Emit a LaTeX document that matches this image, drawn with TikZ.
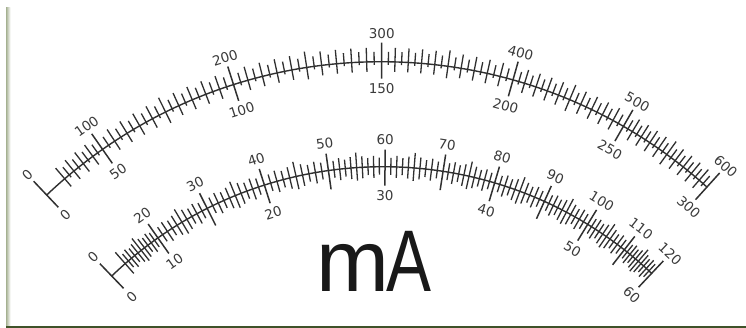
\documentclass[tikz,border=0pt]{standalone}
\usepackage{fontspec}
\setmainfont{Liberation Sans}
\newfontfamily\numfont{DejaVu Sans}
\usetikzlibrary{calc}
\definecolor{ink}{HTML}{303030}
\definecolor{lab}{HTML}{3A3A3A}
\definecolor{frameL}{HTML}{7E8F62}
\definecolor{frameB}{HTML}{3F5229}
\begin{document}
\begin{tikzpicture}[x=1pt,y=1pt,
  tick/.style={draw=ink,line width=1.3pt},
  majtick/.style={draw=ink,line width=1.5pt},
  scalearc/.style={draw=ink,line width=1.4pt},
  numlabel/.style={text=lab,font=\numfont\fontsize{13.5}{13.5}\selectfont,inner sep=0pt},
  unitlabel/.style={text=black!90,font=\fontsize{87.5}{87.5}\selectfont,inner sep=0pt,anchor=base west},
]
\useasboundingbox (0,0) rectangle (746,328);
\fill[white] (0,0) rectangle (746,328);
\shade[left color=frameL!70, right color=white] (6,2) rectangle (10.5,320);
\fill[frameB] (6,0) rectangle (746,2.2);

\coordinate (CU) at (381.1,-219.9);
\coordinate (CL) at (383.1,-230.2);
\def\RU{486.2}
\def\RL{391.5}

% ---------- upper scale ----------
\draw[scalearc] ($(CU)+(133.46:\RU)$) arc[start angle=133.46,end angle=47.92,radius=\RU pt];
\foreach \va/\aa/\vb/\ab in {60/130.6/100/124.95,100/124.95/200/107.67,200/107.67/300/89.93,300/89.93/400/74.26,400/74.26/500/60.11,500/60.11/600/47.92}{
  \pgfmathtruncatemacro\nn{(\vb-\va)/5-1}
  \foreach \k in {0,...,\nn}{
    \pgfmathtruncatemacro\v{\va+5*\k}
    \pgfmathtruncatemacro\mm{mod(\v,100)}
    \ifnum\mm=0\relax\else
      \pgfmathsetmacro\ang{\aa+(\ab-\aa)*(\v-\va)/(\vb-\va)}
      \pgfmathsetmacro\ti{mod(\v,50)==0 ? 12 : (mod(\v,10)==0 ? 10 : 3)}
      \pgfmathsetmacro\to{mod(\v,50)==0 ? 16 : (mod(\v,10)==0 ? 14 : 10)}
      \pgfmathsetmacro\rin{\RU-\ti}
      \pgfmathsetmacro\rout{\RU+\to}
      \draw[tick] ($(CU)+(\ang:\rin)$) -- ($(CU)+(\ang:\rout)$);
    \fi
  }
}
\foreach \ang/\t/\b/\nm in {133.46/0/0/a,124.95/100/50/b,107.67/200/100/c,89.93/300/150/d,74.26/400/200/e,60.11/500/250/f,47.92/600/300/g}{
  \pgfmathsetmacro\rin{\RU-17}
  \pgfmathsetmacro\rout{\RU+19}
  \pgfmathsetmacro\rt{\RU+28}
  \pgfmathsetmacro\rb{\RU-27}
  \draw[majtick] ($(CU)+(\ang:\rin)$) -- ($(CU)+(\ang:\rout)$);
  \node[numlabel,rotate=\ang-90] (ut\nm) at ($(CU)+(\ang:\rt)$) {\t};
  \node[numlabel,rotate=\ang-90] (ub\nm) at ($(CU)+(\ang:\rb)$) {\b};
}

% ---------- lower scale ----------
\draw[scalearc] ($(CL)+(133.88:\RL)$) arc[start angle=133.88,end angle=46.69,radius=\RL pt];
\foreach \va/\aa/\vb/\ab in {10/131.2/20/125.11,20/125.11/30/116.7,30/116.7/40/107.65,40/107.65/50/98.03,50/98.03/60/89.72,60/89.72/70/81.19,70/81.19/80/73.45,80/73.45/90/65.68,90/65.68/100/58.5,100/58.5/110/51.97,110/51.97/120/46.69}{
  \foreach \k in {0,...,9}{
    \pgfmathtruncatemacro\v{\va+\k}
    \pgfmathtruncatemacro\mm{(mod(\v,10)==0 && \v>10) ? 1 : 0}
    \ifnum\mm=1\relax\else
      \pgfmathsetmacro\ang{\aa+(\ab-\aa)*(\v-\va)/(\vb-\va)}
      \pgfmathsetmacro\ti{mod(\v,5)==0 ? 13 : (mod(\v,2)==0 ? 11 : 8)}
      \pgfmathsetmacro\to{mod(\v,5)==0 ? 15 : (mod(\v,2)==0 ? 11 : 9)}
      \pgfmathsetmacro\rin{\RL-\ti}
      \pgfmathsetmacro\rout{\RL+\to}
      \draw[tick] ($(CL)+(\ang:\rin)$) -- ($(CL)+(\ang:\rout)$);
    \fi
  }
}
\pgfmathsetmacro\rin{\RL-17}
\pgfmathsetmacro\rout{\RL+17}
\draw[majtick] ($(CL)+(133.88:\rin)$) -- ($(CL)+(133.88:\rout)$);
\foreach \ang in {125.11,116.7,107.65,98.03,89.72,81.19,73.45,65.68,58.5,51.97,46.69}{
  \pgfmathsetmacro\rin{\RL-19}
  \pgfmathsetmacro\rout{\RL+17}
  \draw[majtick] ($(CL)+(\ang:\rin)$) -- ($(CL)+(\ang:\rout)$);
}
\foreach \ang/\t/\nm in {133.88/0/a,125.11/20/b,116.7/30/c,107.65/40/d,98.03/50/e,89.72/60/f,81.19/70/g,73.45/80/h,65.68/90/i,58.5/100/j,51.97/110/k,46.69/120/l}{
  \pgfmathsetmacro\rt{\RL+27}
  \node[numlabel,rotate=\ang-90] (lt\nm) at ($(CL)+(\ang:\rt)$) {\t};
}
\foreach \ang/\b/\nm in {133.88/0/a,125.11/10/b,107.65/20/d,89.72/30/f,73.45/40/h,58.5/50/j,46.69/60/l}{
  \pgfmathsetmacro\rb{\RL-29}
  \node[numlabel,rotate=\ang-90] (lb\nm) at ($(CL)+(\ang:\rb)$) {\b};
}

% ---------- unit ----------
\node[unitlabel] (unit) at (316,36) {m\kern-3pt\scalebox{0.77}[1]{A}};
\end{tikzpicture}
\end{document}
